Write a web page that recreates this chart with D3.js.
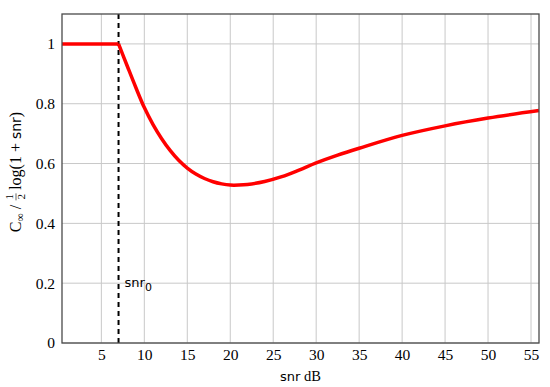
<!DOCTYPE html>
<html>
<head>
<meta charset="utf-8">
<script src="https://cdn.jsdelivr.net/npm/d3@7"></script>
<style>
  body { margin: 0; background: #fff; }
</style>
</head>
<body>
<div id="chart"></div>
<script>
// snr in dB and the ratio C_inf / (1/2 log(1+snr))
const snrFlat = [0.42, 7];
const ratioFlat = [1, 1];
const snrCurve = [7, 8, 9, 10, 11, 12, 13, 14, 15, 16, 17, 18, 19, 20, 21, 22, 24, 26, 28, 30, 32.5, 35, 40, 45, 50, 55.93];
const ratioCurve = [1, 0.927, 0.855, 0.787, 0.731, 0.684, 0.644, 0.611, 0.585, 0.565, 0.550, 0.539, 0.532, 0.528, 0.528, 0.530, 0.540, 0.556, 0.578, 0.602, 0.628, 0.651, 0.694, 0.726, 0.752, 0.777];
const snr0 = 7;
const xTicks = [5, 10, 15, 20, 25, 30, 35, 40, 45, 50, 55];
const yTicks = [0, 0.2, 0.4, 0.6, 0.8, 1];

const width = 550, height = 387;
const margin = {top: 14, right: 11, bottom: 44, left: 62};
const serif = "Liberation Serif";
const sans = "DejaVu Sans";

const x = d3.scaleLinear([0.42, 55.93], [margin.left, width - margin.right]);
const y = d3.scaleLinear([0, 1.1], [height - margin.bottom, margin.top]);

const svg = d3.select("#chart").append("svg")
  .attr("width", width)
  .attr("height", height)
  .style("display", "block")
  .style("background", "#fff");

// grid
svg.append("g")
  .selectAll("line")
  .data(xTicks)
  .join("line")
  .attr("x1", d => x(d)).attr("x2", d => x(d))
  .attr("y1", margin.top).attr("y2", height - margin.bottom)
  .attr("stroke", "#c8c8c8").attr("stroke-width", 1);
svg.append("g")
  .selectAll("line")
  .data(yTicks)
  .join("line")
  .attr("x1", margin.left).attr("x2", width - margin.right)
  .attr("y1", d => y(d)).attr("y2", d => y(d))
  .attr("stroke", "#c8c8c8").attr("stroke-width", 1);

// axes (tick labels only)
svg.append("g")
  .attr("transform", `translate(0,${height - margin.bottom})`)
  .call(d3.axisBottom(x).tickValues(xTicks).tickSize(0).tickPadding(6).tickFormat(d3.format("d")));
svg.append("g")
  .attr("transform", `translate(${margin.left},0)`)
  .call(d3.axisLeft(y).tickValues(yTicks).tickSize(0).tickPadding(7).tickFormat(d => d === 0 || d === 1 ? d : d3.format(".1f")(d)));
svg.selectAll(".domain").remove();
svg.selectAll(".tick text")
  .style("font-family", serif)
  .style("font-size", "15.5px")
  .attr("fill", "#000");

// dashed snr0 line
svg.append("line")
  .attr("x1", x(snr0)).attr("x2", x(snr0))
  .attr("y1", margin.top).attr("y2", height - margin.bottom)
  .attr("stroke", "#000").attr("stroke-width", 2)
  .attr("stroke-dasharray", "5,4");

// curve
const line = d3.line().x(d => x(d[0])).y(d => y(d[1]));
svg.append("path")
  .datum(snrFlat.map((s, i) => [s, ratioFlat[i]]))
  .attr("d", line)
  .attr("fill", "none").attr("stroke", "#ff0000")
  .attr("stroke-width", 3.5);
svg.append("path")
  .datum(snrCurve.map((s, i) => [s, ratioCurve[i]]))
  .attr("d", line.curve(d3.curveCatmullRom.alpha(0.5)))
  .attr("fill", "none").attr("stroke", "#ff0000")
  .attr("stroke-width", 3.5).attr("stroke-linejoin", "round");

// frame
svg.append("rect")
  .attr("x", margin.left).attr("y", margin.top)
  .attr("width", width - margin.left - margin.right)
  .attr("height", height - margin.top - margin.bottom)
  .attr("fill", "none").attr("stroke", "#4a4a4a").attr("stroke-width", 1.3);

// snr0 annotation
svg.append("text")
  .attr("x", x(snr0) + 6).attr("y", y(0.2) + 4)
  .style("font-family", sans).style("font-size", "13px")
  .call(t => t.append("tspan").text("snr"))
  .call(t => t.append("tspan").style("font-size", "11px").attr("dy", 4).text("0"));

// x label
svg.append("text")
  .attr("x", (margin.left + width - margin.right) / 2)
  .attr("y", height - 6)
  .attr("text-anchor", "middle")
  .style("font-size", "14.5px")
  .call(t => t.append("tspan").style("font-family", sans).style("font-size", "13px").text("snr"))
  .call(t => t.append("tspan").style("font-family", serif).text(" dB"));

// y label, built piece by piece: C∞ / ½ log(1 + snr)
const yl = svg.append("g");
const part1 = yl.append("text")
  .style("font-family", serif).style("font-size", "16px")
  .call(t => t.append("tspan").text("C"))
  .call(t => t.append("tspan").style("font-size", "11.5px").attr("dy", 3).text("∞"))
  .call(t => t.append("tspan").attr("dy", -3).text("\u00a0/\u00a0"));
const w1 = part1.node().getComputedTextLength();
const fx = w1 + 4;
yl.append("text").attr("x", fx).attr("y", -8).attr("text-anchor", "middle")
  .style("font-family", serif).style("font-size", "11px").text("1");
yl.append("line").attr("x1", fx - 3.5).attr("x2", fx + 3.5).attr("y1", -5).attr("y2", -5)
  .attr("stroke", "#000").attr("stroke-width", 0.6);
yl.append("text").attr("x", fx).attr("y", 3.5).attr("text-anchor", "middle")
  .style("font-family", serif).style("font-size", "11px").text("2");
const part2 = yl.append("text")
  .attr("x", fx + 7)
  .style("font-family", serif).style("font-size", "16px")
  .call(t => t.append("tspan").text("log(1 + "))
  .call(t => t.append("tspan").style("font-family", sans).style("font-size", "14px").text("snr"))
  .call(t => t.append("tspan").text(")"));
const total = fx + 7 + part2.node().getComputedTextLength();
yl.attr("transform", `translate(21,${172 + total / 2}) rotate(-90)`);
</script>
</body>
</html>
